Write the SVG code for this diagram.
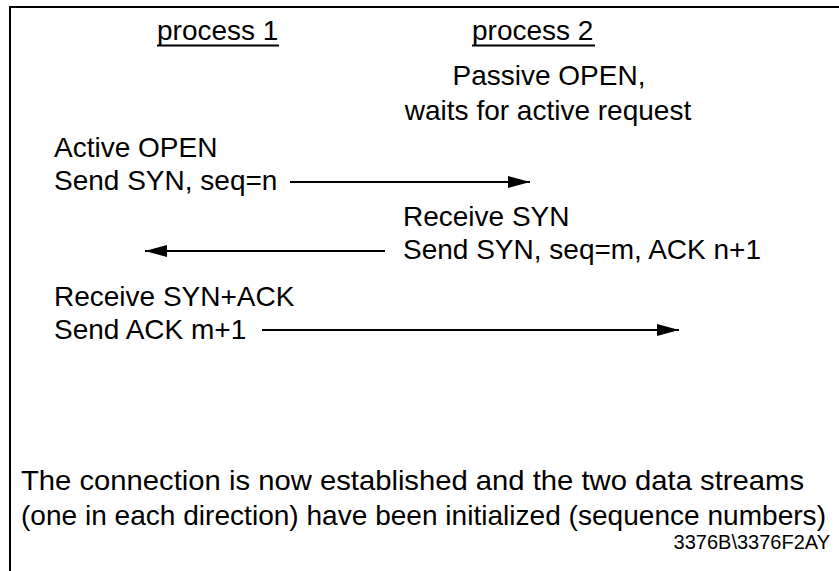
<svg xmlns="http://www.w3.org/2000/svg" width="839" height="571" viewBox="0 0 839 571">
<style>
text{font-family:"Liberation Sans",Arial,sans-serif;font-size:28px;fill:#000}
.small{font-size:20px}
.ln{stroke:#000;stroke-width:2;fill:none}
</style>
<defs>
<marker id="ah" markerWidth="22" markerHeight="12" refX="22" refY="6" orient="auto" markerUnits="userSpaceOnUse">
<path d="M0,0 L22,6 L0,12 Z" fill="#000"/>
</marker>
</defs>
<rect width="839" height="571" fill="#fff"/>
<path class="ln" d="M10,571 V7 H839" stroke-width="3"/>
<g id="process1">
<text x="157" y="40">process 1</text>
<line class="ln" x1="157" y1="45.5" x2="279" y2="45.5" stroke-width="1.5"/>
</g>
<g id="process2">
<text x="472" y="40">process 2</text>
<line class="ln" x1="472" y1="45.5" x2="595" y2="45.5" stroke-width="1.5"/>
</g>
<g id="passive">
<text x="549" y="85" text-anchor="middle">Passive OPEN,</text>
<text x="548" y="120" text-anchor="middle">waits for active request</text>
</g>
<g id="active">
<text x="54" y="157">Active OPEN</text>
<text x="54" y="190">Send SYN, seq=n</text>
</g>
<g id="receive-syn">
<text x="403" y="226">Receive SYN</text>
<text x="403" y="259">Send SYN, seq=m, ACK n+1</text>
</g>
<g id="receive-synack">
<text x="54" y="306">Receive SYN+ACK</text>
<text x="54" y="339">Send ACK m+1</text>
</g>
<g id="connectors">
<line class="ln" x1="290" y1="182" x2="530" y2="182" marker-end="url(#ah)"/>
<line class="ln" x1="385" y1="251" x2="145" y2="251" marker-end="url(#ah)"/>
<line class="ln" x1="262" y1="330" x2="679" y2="330" marker-end="url(#ah)"/>
</g>
<g id="summary">
<text x="21" y="490" textLength="783" lengthAdjust="spacingAndGlyphs">The connection is now established and the two data streams</text>
<text x="21" y="525" textLength="805" lengthAdjust="spacingAndGlyphs">(one in each direction) have been initialized (sequence numbers)</text>
</g>
<text class="small" x="830" y="549" text-anchor="end">3376B\3376F2AY</text>
</svg>
